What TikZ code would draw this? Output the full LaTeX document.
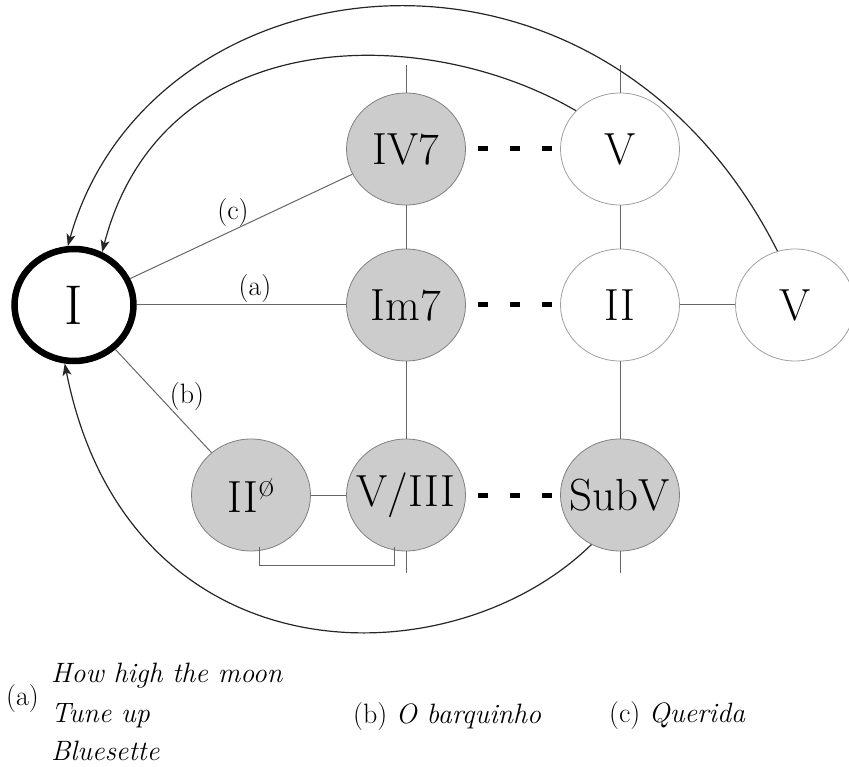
\documentclass[tikz,border=0pt]{standalone}
\usepackage{fontspec}
\usetikzlibrary{shapes.geometric,arrows.meta}
\newcommand\chordtext[1]{\makebox[0pt]{#1}}
\begin{document}
\begin{tikzpicture}[x=1pt,y=-1pt,
  every node/.style={inner sep=0pt},
  chord/.style={ellipse, minimum width=119pt, minimum height=112pt, inner sep=0pt, font=\fontsize{45}{50}\selectfont},
  gchord/.style={chord, fill=gray!40, draw=gray, line width=0.8pt},
  wchord/.style={chord, fill=white, draw=gray!75, line width=0.8pt},
  tonic/.style={ellipse, minimum width=119pt, minimum height=112pt, inner sep=0pt, draw=black, line width=6.5pt, fill=white, font=\fontsize{56}{60}\selectfont},
  link/.style={draw=black!60, line width=1pt},
  dots/.style={draw=black, line width=5pt, dash pattern=on 10pt off 22pt, dash phase=20pt},
  back/.style={draw=black!85, line width=1.2pt, -{Stealth[length=12pt,width=9pt,inset=3pt]}},
  elabel/.style={font=\fontsize{28}{32}\selectfont},
  legend/.style={font=\fontsize{28}{40}\selectfont, anchor=base west}
]
\useasboundingbox (0,0) rectangle (849,767);

% stub end points
\coordinate (s1) at (406,65);
\coordinate (s2) at (620,65);
\coordinate (s3) at (406,573);
\coordinate (s4) at (620,573);

% nodes
\node[tonic] (I) at (74,305) {I};
\node[gchord] (IV7) at (406,149) {\chordtext{IV7}};
\node[wchord] (Vt) at (620,149) {\chordtext{V}};
\node[gchord] (Im7) at (406,305) {\chordtext{Im7}};
\node[wchord] (II) at (620,305) {\chordtext{II}};
\node[wchord] (Vr) at (795,305) {\chordtext{V}};
\node[gchord] (IIhd) at (251,495) {\chordtext{II\raisebox{16pt}{\fontsize{34}{34}\selectfont ø}}};
\node[gchord] (V3) at (406,495) {\chordtext{V/III}};
\node[gchord] (SubV) at (620,495) {\chordtext{SubV}};

% grid lines
\draw[link] (s1) -- (IV7);
\draw[link] (s2) -- (Vt);
\draw[link] (IV7) -- (Im7);
\draw[link] (Im7) -- (V3);
\draw[link] (V3) -- (s3);
\draw[link] (Vt) -- (II);
\draw[link] (II) -- (SubV);
\draw[link] (SubV) -- (s4);
\draw[link] (IIhd) -- (V3);
\draw[link] (II) -- (Vr);
\draw[link] ([shift={(8,-4)}]IIhd.south) -- ++(0,18) -| ([shift={(-12,-4)}]V3.south);

% dotted relations
\draw[dots] (IV7) -- (Vt);
\draw[dots] (Im7) -- (II);
\draw[dots] (V3) -- (SubV);

% edges from tonic
\draw[link] (I) -- (IV7);
\draw[link] (I) -- (Im7);
\draw[link] (I) -- (IIhd);
\node[elabel] (lc) at (233,213) {(c)};
\node[elabel] (la) at (255,289) {(a)};
\node[elabel] (lb) at (187,397) {(b)};

% return arcs
\draw[back] (Vt.139) .. controls (424,22) and (162,22) .. (I.62);
\draw[back] (Vr.108) .. controls (598,-104) and (149,-43) .. (I.96);
\draw[back] (SubV.240) .. controls (450,683) and (128,682) .. (I.261);

% legend
\node[legend] (ka) at (6,705) {(a)};
\node[legend] (k1) at (51,682) {\itshape How high the moon};
\node[legend] (k2) at (51,722) {\itshape Tune up};
\node[legend] (k3) at (51,760) {\itshape Bluesette};
\node[legend] (kb) at (353,723) {(b) \textit{O barquinho}};
\node[legend] (kc) at (609,722) {(c) \textit{Querida}};
\end{tikzpicture}
\end{document}
